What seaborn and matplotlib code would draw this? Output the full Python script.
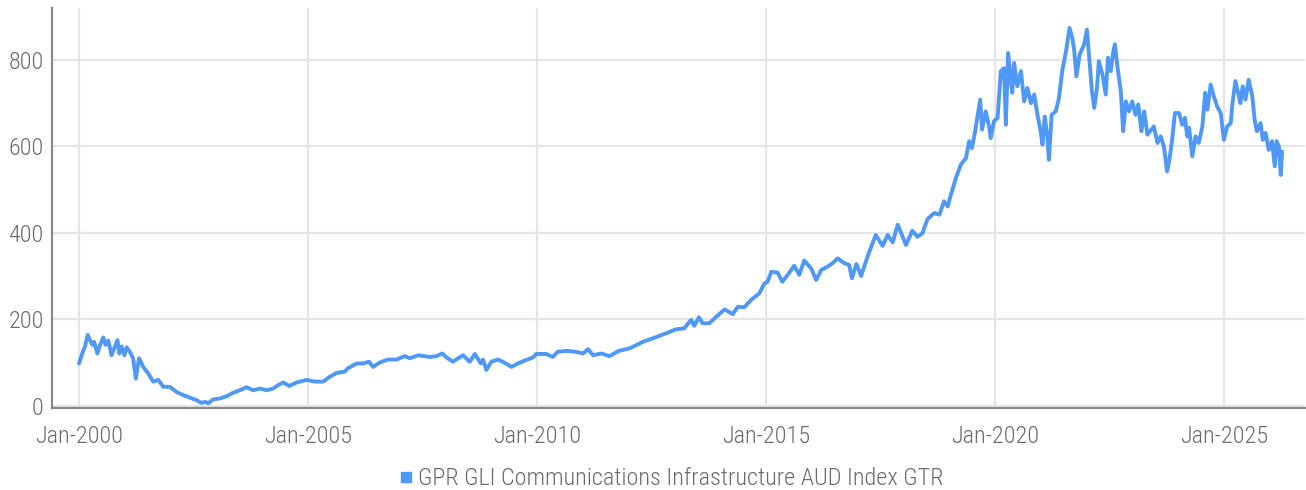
import matplotlib
matplotlib.use("Agg")
import matplotlib.pyplot as plt
from matplotlib.lines import Line2D
import seaborn as sns
import pandas as pd

series_name = "GPR GLI Communications Infrastructure AUD Index GTR"

years = [
    2000.00, 2000.07, 2000.13, 2000.19, 2000.24, 2000.29, 2000.33, 2000.40, 2000.46, 2000.53,
    2000.58, 2000.64, 2000.71, 2000.77, 2000.84, 2000.88, 2000.93, 2000.99, 2001.04, 2001.11,
    2001.18, 2001.24, 2001.31, 2001.40, 2001.51, 2001.62, 2001.73, 2001.84, 2001.98, 2002.13,
    2002.27, 2002.42, 2002.57, 2002.66, 2002.76, 2002.82, 2002.93, 2003.07, 2003.22, 2003.36,
    2003.51, 2003.66, 2003.80, 2003.95, 2004.09, 2004.24, 2004.35, 2004.46, 2004.59, 2004.75,
    2004.97, 2005.15, 2005.33, 2005.47, 2005.62, 2005.80, 2005.87, 2006.06, 2006.20, 2006.33,
    2006.42, 2006.56, 2006.74, 2006.93, 2007.11, 2007.22, 2007.40, 2007.65, 2007.80, 2007.93,
    2008.02, 2008.16, 2008.38, 2008.53, 2008.64, 2008.77, 2008.82, 2008.89, 2009.00, 2009.14,
    2009.25, 2009.44, 2009.58, 2009.76, 2009.91, 2009.98, 2010.20, 2010.34, 2010.45, 2010.64,
    2010.85, 2011.00, 2011.11, 2011.22, 2011.40, 2011.58, 2011.78, 2012.02, 2012.31, 2012.52,
    2012.82, 2013.03, 2013.21, 2013.36, 2013.43, 2013.53, 2013.61, 2013.76, 2013.91, 2014.09,
    2014.27, 2014.38, 2014.52, 2014.67, 2014.85, 2014.96, 2015.03, 2015.11, 2015.25, 2015.35,
    2015.47, 2015.61, 2015.72, 2015.83, 2015.98, 2016.09, 2016.20, 2016.34, 2016.45, 2016.56,
    2016.70, 2016.81, 2016.87, 2016.97, 2017.07, 2017.21, 2017.39, 2017.54, 2017.65, 2017.76,
    2017.87, 2018.05, 2018.19, 2018.30, 2018.41, 2018.52, 2018.67, 2018.78, 2018.88, 2018.96,
    2019.03, 2019.14, 2019.25, 2019.36, 2019.43, 2019.49, 2019.56, 2019.67, 2019.71, 2019.79,
    2019.87, 2019.90, 2019.97, 2020.05, 2020.12, 2020.19, 2020.23, 2020.28, 2020.34, 2020.37,
    2020.41, 2020.48, 2020.56, 2020.63, 2020.70, 2020.78, 2020.85, 2020.92, 2020.99, 2021.03,
    2021.08, 2021.14, 2021.17, 2021.23, 2021.32, 2021.39, 2021.46, 2021.55, 2021.62, 2021.68,
    2021.72, 2021.77, 2021.84, 2021.94, 2022.00, 2022.05, 2022.11, 2022.16, 2022.22, 2022.26,
    2022.34, 2022.41, 2022.46, 2022.52, 2022.57, 2022.61, 2022.66, 2022.74, 2022.79, 2022.85,
    2022.92, 2022.99, 2023.06, 2023.12, 2023.19, 2023.25, 2023.32, 2023.35, 2023.46, 2023.54,
    2023.61, 2023.68, 2023.75, 2023.80, 2023.86, 2023.92, 2024.01, 2024.08, 2024.14, 2024.19,
    2024.23, 2024.30, 2024.37, 2024.44, 2024.52, 2024.58, 2024.63, 2024.70, 2024.77, 2024.84,
    2024.92, 2024.99, 2025.06, 2025.14, 2025.17, 2025.24, 2025.30, 2025.35, 2025.40, 2025.46,
    2025.53, 2025.61, 2025.66, 2025.71, 2025.79, 2025.84, 2025.90, 2025.97, 2026.04, 2026.10,
    2026.14, 2026.19, 2026.23, 2026.26,
]

values = [
    98, 121, 137, 164, 152, 141, 148, 121, 141, 158,
    141, 151, 117, 133, 152, 121, 137, 117, 135, 125,
    110, 63, 110, 90, 75, 56, 60, 44, 44, 32,
    25, 19, 13, 7, 9, 6, 15, 17, 22, 30,
    36, 43, 36, 40, 36, 40, 48, 54, 46, 54,
    60, 56, 56, 67, 76, 79, 87, 98, 98, 102,
    90, 100, 107, 107, 115, 110, 117, 113, 115, 121,
    112, 102, 117, 102, 120, 98, 107, 83, 102, 107,
    102, 90, 98, 106, 112, 120, 120, 113, 125, 127,
    125, 121, 131, 117, 121, 115, 127, 133, 148, 156,
    168, 177, 179, 199, 185, 205, 191, 191, 206, 223,
    212, 229, 228, 245, 260, 283, 287, 310, 308, 287,
    303, 324, 303, 336, 318, 291, 314, 322, 330, 341,
    330, 326, 295, 328, 300, 345, 395, 370, 395, 378,
    419, 372, 405, 391, 399, 432, 446, 442, 473, 461,
    488, 527, 558, 573, 612, 596, 635, 708, 639, 681,
    643, 619, 658, 666, 774, 781, 650, 816, 751, 724,
    793, 739, 774, 704, 735, 700, 720, 673, 635, 604,
    669, 619, 569, 673, 681, 712, 774, 824, 874, 851,
    824, 762, 812, 836, 870, 805, 727, 689, 735, 797,
    766, 720, 805, 774, 816, 836, 789, 727, 635, 704,
    681, 704, 673, 697, 635, 681, 627, 631, 646, 608,
    623, 600, 542, 569, 615, 677, 677, 650, 666, 623,
    643, 577, 623, 608, 646, 724, 685, 743, 716, 693,
    677, 615, 646, 654, 693, 751, 724, 700, 739, 708,
    754, 716, 662, 635, 654, 615, 631, 592, 612, 554,
    612, 600, 534, 588,
]

x_tick_years = [2000, 2005, 2010, 2015, 2020, 2025]
x_tick_labels = ["Jan-2000", "Jan-2005", "Jan-2010", "Jan-2015", "Jan-2020", "Jan-2025"]
y_ticks = [0, 200, 400, 600, 800]

df = pd.DataFrame({"year": years, "value": values, "series": series_name})

sns.set_theme(style="white")
plt.rcParams["font.family"] = ["Roboto Condensed", "Liberation Sans Narrow", "Roboto", "DejaVu Sans"]
plt.rcParams["font.stretch"] = "condensed"
plt.rcParams["font.weight"] = "light"

line_color = "#4f98f7"
text_color = "#6b6b6b"
grid_color = "#e6e6e6"
spine_color = "#8a8a8a"

fig = plt.figure(figsize=(13.06, 4.90), dpi=100)
ax = fig.add_axes([52 / 1306, 1 - 408 / 490, (1305 - 52) / 1306, (408 - 8) / 490])

sns.lineplot(data=df, x="year", y="value", color=line_color, linewidth=2.8,
             ax=ax, legend=False)

ax.set_xlim(1999.41, 2026.76)
ax.set_ylim(-5, 920)
ax.set_xticks(x_tick_years)
ax.set_xticklabels(x_tick_labels)
ax.set_yticks(y_ticks)
ax.set_yticklabels([str(v) for v in y_ticks])
ax.set_xlabel("")
ax.set_ylabel("")

ax.grid(True, color=grid_color, linewidth=1.6)
ax.set_axisbelow(True)
for side in ["top", "right"]:
    ax.spines[side].set_visible(False)
for side in ["left", "bottom"]:
    ax.spines[side].set_color(spine_color)
    ax.spines[side].set_linewidth(1.6)

ax.tick_params(axis="both", length=0, labelsize=17.5, colors=text_color)
ax.tick_params(axis="x", pad=12)
ax.tick_params(axis="y", pad=6)

handle = Line2D([0], [0], marker="s", color="none", markerfacecolor=line_color,
                markeredgecolor=line_color, markersize=7.5)
fig.legend([handle], [series_name], loc="center", bbox_to_anchor=(0.513, 0.023),
           frameon=False, fontsize=17.5, labelcolor=text_color, handletextpad=0.1,
           handlelength=0.8)

fig.savefig("out.png", dpi=100)
